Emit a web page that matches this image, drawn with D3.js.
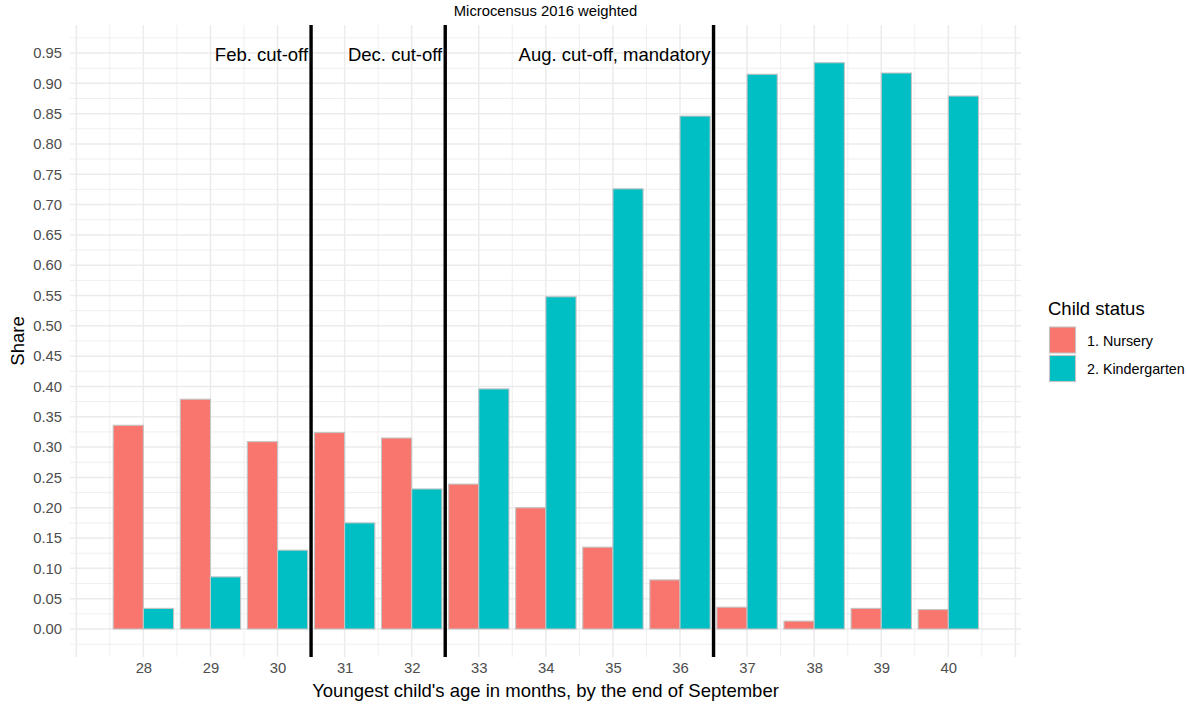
<!DOCTYPE html>
<html>
<head>
<meta charset="utf-8">
<script src="https://cdn.jsdelivr.net/npm/d3@7"></script>
<style>
  html, body { margin: 0; padding: 0; background: #fff; }
  svg { display: block; font-family: "Liberation Sans", Arial, sans-serif; }
</style>
</head>
<body>
<script>
// ---- data ----
const ages = [28, 29, 30, 31, 32, 33, 34, 35, 36, 37, 38, 39, 40];
const nursery = [0.336, 0.379, 0.309, 0.324, 0.315, 0.239, 0.200, 0.135, 0.081, 0.036, 0.013, 0.034, 0.032];
const kindergarten = [0.034, 0.086, 0.130, 0.175, 0.231, 0.396, 0.548, 0.726, 0.846, 0.915, 0.934, 0.917, 0.879];
const seriesNames = ["1. Nursery", "2. Kindergarten"];
const seriesColors = ["#F8766D", "#00BFC4"];
const cutoffs = [30.5, 32.5, 36.5];
const cutoffLabels = ["Feb. cut-off", "Dec. cut-off", "Aug. cut-off, mandatory"];
const yTicks = d3.range(0, 20).map(i => i * 0.05);
const title = "Microcensus 2016 weighted";
const xTitle = "Youngest child's age in months, by the end of September";
const yTitle = "Share";
const legendTitle = "Child status";

// ---- layout ----
const W = 1187, H = 704;
const panel = { left: 70, right: 1021, top: 25, bottom: 657 };

const svg = d3.select("body").append("svg").attr("width", W).attr("height", H);

const x = d3.scaleLinear().domain([27, 41]).range([76.3, 1015.4]);
const y = d3.scaleLinear().domain([0, 0.95]).range([629, 53]);

const grid = svg.append("g");
// minor horizontal
d3.range(-1, 40, 2).map(i => i * 0.025).filter(v => y(v) >= panel.top && y(v) <= panel.bottom)
  .forEach(v => grid.append("line").attr("x1", panel.left).attr("x2", panel.right)
    .attr("y1", y(v)).attr("y2", y(v)).attr("stroke", "#ebebeb").attr("stroke-width", 0.8));
// minor vertical
d3.range(27.5, 41, 1).forEach(v => grid.append("line").attr("x1", x(v)).attr("x2", x(v))
    .attr("y1", panel.top).attr("y2", panel.bottom).attr("stroke", "#ebebeb").attr("stroke-width", 0.8));
// major horizontal
yTicks.forEach(v => grid.append("line").attr("x1", panel.left).attr("x2", panel.right)
    .attr("y1", y(v)).attr("y2", y(v)).attr("stroke", "#ebebeb").attr("stroke-width", 1.5));
// major vertical
d3.range(27, 42, 1).forEach(v => grid.append("line").attr("x1", x(v)).attr("x2", x(v))
    .attr("y1", panel.top).attr("y2", panel.bottom).attr("stroke", "#ebebeb").attr("stroke-width", 1.5));

// bars
const bw = 0.45;
const seriesData = [nursery, kindergarten];
seriesData.forEach((vals, si) => {
  svg.append("g").selectAll("rect").data(ages).join("rect")
    .attr("x", (d) => x(d - bw + si * bw))
    .attr("width", (d) => x(d + bw) - x(d))
    .attr("y", (d, i) => y(vals[i]))
    .attr("height", (d, i) => y(0) - y(vals[i]))
    .attr("fill", seriesColors[si])
    .attr("stroke", "#c4c4c4")
    .attr("stroke-width", 1.1);
});

// cutoff lines
cutoffs.forEach((c, i) => {
  svg.append("line").attr("x1", x(c)).attr("x2", x(c))
    .attr("y1", panel.top).attr("y2", panel.bottom)
    .attr("stroke", "#000").attr("stroke-width", 3.4);
  svg.append("text").attr("x", x(c) - 3).attr("y", 61)
    .attr("text-anchor", "end").attr("font-size", 18.5).attr("fill", "#000")
    .text(cutoffLabels[i]);
});

// y axis labels
const yAxis = d3.axisLeft(y).tickValues(yTicks).tickFormat(d3.format(".2f")).tickSize(0).tickPadding(0);
const yg = svg.append("g").attr("transform", "translate(62,0)").call(yAxis);
yg.select(".domain").remove();
yg.selectAll("text").attr("font-size", 14.8).attr("fill", "#4d4d4d")
  .attr("font-family", "'Liberation Sans', Arial, sans-serif");

// x axis labels
const xAxis = d3.axisBottom(x).tickValues(ages).tickFormat(d3.format("d")).tickSize(0).tickPadding(0);
const xg = svg.append("g").attr("transform", "translate(0,662)").call(xAxis);
xg.select(".domain").remove();
xg.selectAll("text").attr("font-size", 14.8).attr("fill", "#4d4d4d")
  .attr("font-family", "'Liberation Sans', Arial, sans-serif");

// titles
svg.append("text").attr("x", 545.5).attr("y", 16).attr("text-anchor", "middle")
  .attr("font-size", 14.8).attr("fill", "#000").text(title);
svg.append("text").attr("x", 545.5).attr("y", 697).attr("text-anchor", "middle")
  .attr("font-size", 18.5).attr("fill", "#000").text(xTitle);
svg.append("text").attr("transform", "translate(24,341) rotate(-90)").attr("text-anchor", "middle")
  .attr("font-size", 18.5).attr("fill", "#000").text(yTitle);

// legend
const lg = svg.append("g");
lg.append("text").attr("x", 1048).attr("y", 315).attr("font-size", 18.5).attr("fill", "#000").text(legendTitle);
seriesNames.forEach((n, i) => {
  lg.append("rect").attr("x", 1049.5).attr("y", 327 + i * 28.5).attr("width", 26).attr("height", 26)
    .attr("fill", seriesColors[i]).attr("stroke", "#c4c4c4").attr("stroke-width", 1.1);
  lg.append("text").attr("x", 1087).attr("y", 345.5 + i * 28.5).attr("font-size", 14.3)
    .attr("fill", "#000").text(n);
});
</script>
</body>
</html>
